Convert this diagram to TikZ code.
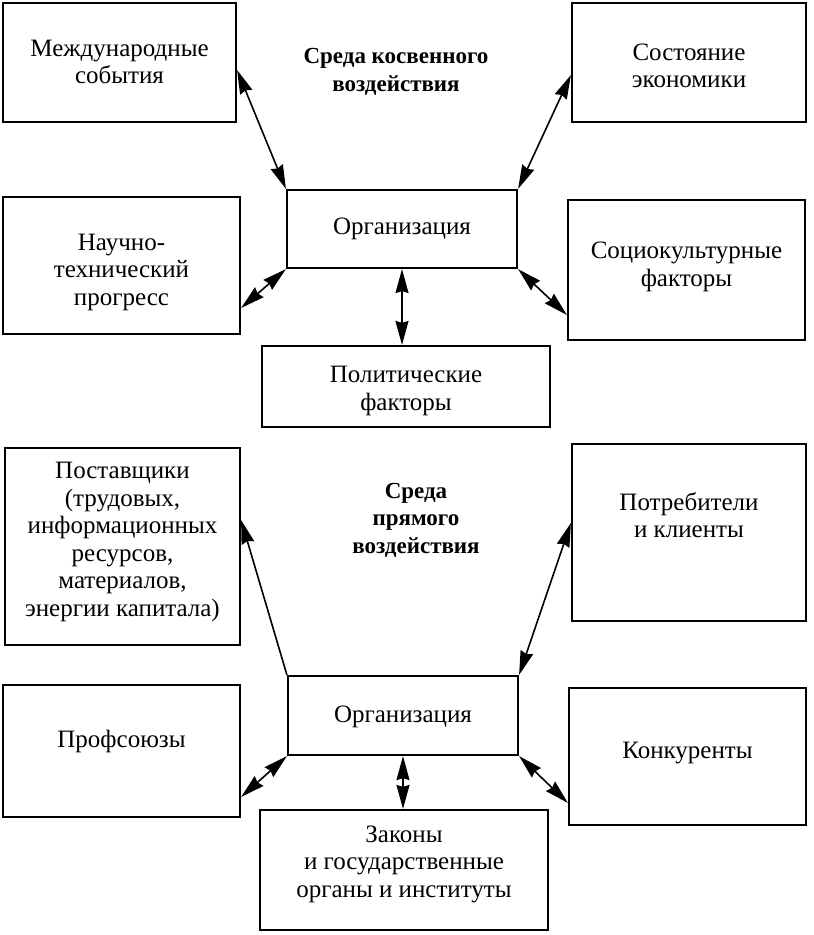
\documentclass[tikz,border=0pt]{standalone}
\usepackage{fontspec}
\setmainfont{Liberation Serif}
\usetikzlibrary{arrows.meta}
\begin{document}
\begin{tikzpicture}[x=1pt,y=-1pt,
  box/.style={draw,line width=2.2pt,inner sep=0pt},
  txt/.style={align=center,font=\fontsize{25}{27.5}\selectfont,inner sep=0pt},
  head/.style={align=center,font=\fontsize{23}{27.5}\selectfont\bfseries,inner sep=0pt},
  link/.style={line width=1.6pt,{Stealth[length=24pt,width=13pt,inset=2pt]}-{Stealth[length=24pt,width=13pt,inset=2pt]}},
  link1/.style={line width=1.6pt,-{Stealth[length=24pt,width=13pt,inset=2pt]}}]
\useasboundingbox (0,0) rectangle (814,935);
% boxes
\node[box,minimum width=233pt,minimum height=119pt] (mezh) at (119.5,62.5) {};
\node[box,minimum width=234pt,minimum height=119pt] (sost) at (689,62.5) {};
\node[box,minimum width=230pt,minimum height=78pt] (org1) at (402,229) {};
\node[box,minimum width=237pt,minimum height=137pt] (nauch) at (121.5,265.5) {};
\node[box,minimum width=237pt,minimum height=140pt] (socio) at (686.5,270) {};
\node[box,minimum width=288pt,minimum height=81pt] (polit) at (406,386.5) {};
\node[box,minimum width=235pt,minimum height=197pt] (post) at (122.5,546.5) {};
\node[box,minimum width=234pt,minimum height=177pt] (potr) at (689,532.5) {};
\node[box,minimum width=230pt,minimum height=79pt] (org2) at (403,715.5) {};
\node[box,minimum width=237pt,minimum height=132pt] (prof) at (121.5,751) {};
\node[box,minimum width=237pt,minimum height=137pt] (konk) at (687.5,756.5) {};
\node[box,minimum width=288pt,minimum height=120pt] (zak) at (404,870) {};
% texts
\node[txt] (mezht) at (119.5,62) {Международные\\события};
\node[txt] (sostt) at (689,66) {Состояние\\экономики};
\node[txt] (org1t) at (402,229) {Организация};
\node[txt] (naucht) at (121.5,272) {Научно-\\технический\\прогресс};
\node[txt] (sociot) at (686.5,267) {Социокультурные\\факторы};
\node[txt] (politt) at (406,391) {Политические\\факторы};
\node[txt] (postt) at (122.5,542) {Поставщики\\(трудовых,\\информационных\\ресурсов,\\материалов,\\энергии капитала)};
\node[txt] (potrt) at (689,515) {Потребители\\и клиенты};
\node[txt] (org2t) at (403,717) {Организация};
\node[txt] (proft) at (121.5,741) {Профсоюзы};
\node[txt] (konkt) at (687.5,753) {Конкуренты};
\node[txt] (zakt) at (404,864) {Законы\\и государственные\\органы и институты};
\node[head] (h1) at (396,72) {Среда косвенного\\воздействия};
\node[head] (h2) at (416,520) {Среда\\прямого\\воздействия};
% connector end points
\coordinate (e1) at (mezh.east |- 0,70);
\coordinate (e2) at (sost.west |- 0,75);
\coordinate (e3) at (nauch.east |- 0,308);
\coordinate (e4) at (socio.west |- 0,315);
\coordinate (e5) at (post.east |- 0,520);
\coordinate (e6) at (potr.west |- 0,523);
\coordinate (e7) at (prof.east |- 0,797);
\coordinate (e8) at (konk.west |- 0,803);
% connectors
\draw[link] (e1) -- (org1.north west);
\draw[link] (org1.north east) -- (e2);
\draw[link] (org1.south west) -- (e3);
\draw[link] (org1.south east) -- (e4);
\draw[link] (org1.south) -- (org1.south |- polit.north);
\draw[link1] (org2.north west) -- (e5);
\draw[link] (org2.north east) -- (e6);
\draw[link] (org2.south west) -- (e7);
\draw[link] (org2.south east) -- (e8);
\draw[link] (org2.south) -- (org2.south |- zak.north);
\end{tikzpicture}
\end{document}
